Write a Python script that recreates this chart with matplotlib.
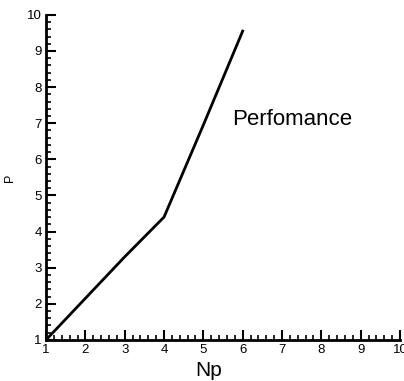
import numpy as np
import matplotlib.pyplot as plt
from matplotlib.ticker import MultipleLocator

plt.rcParams['font.family'] = ['Liberation Sans', 'DejaVu Sans']

# data
np_vals = [1, 2, 3, 4, 5, 6]
p_vals = [1.0, 2.15, 3.3, 4.4, 6.95, 9.55]
label_text = "Perfomance"

fig = plt.figure(figsize=(4.04, 3.81), dpi=100)
ax = fig.add_axes([0.114, 0.108, 0.876, 0.853])

ax.plot(np_vals, p_vals, color='black', linewidth=2)
ax.text(5.73, 7.1, label_text, fontsize=16, va='center', ha='left')

ax.set_xlim(1, 10)
ax.set_ylim(1, 10)
ax.xaxis.set_major_locator(MultipleLocator(1))
ax.yaxis.set_major_locator(MultipleLocator(1))
ax.xaxis.set_minor_locator(MultipleLocator(0.2))
ax.yaxis.set_minor_locator(MultipleLocator(0.2))
ax.tick_params(which='major', direction='in', length=7, width=1.5, labelsize=9.5, pad=3)
ax.tick_params(which='minor', direction='in', length=3.5, width=1.2)

for s in ['top', 'right']:
    ax.spines[s].set_visible(False)
for s in ['left', 'bottom']:
    ax.spines[s].set_linewidth(2)

ax.set_xlabel("Np", fontsize=15, labelpad=0)
ax.xaxis.set_label_coords(0.46, -0.065)
ax.set_ylabel("P", fontsize=9, labelpad=8)

plt.savefig("out.png", dpi=100)
